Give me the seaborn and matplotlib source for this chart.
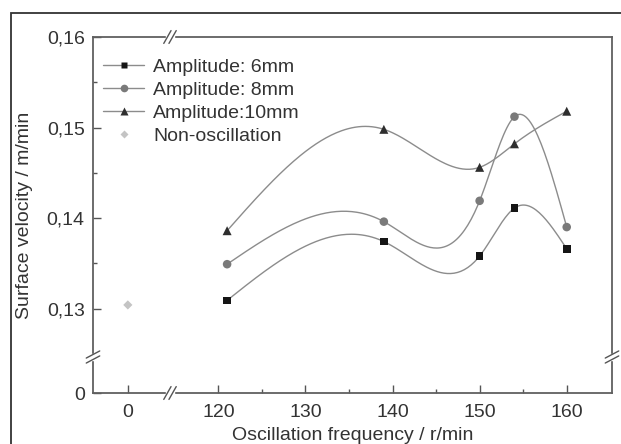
import numpy as np
import pandas as pd
import seaborn as sns
import matplotlib.pyplot as plt
from matplotlib.patches import Rectangle
from matplotlib.lines import Line2D

# data
freq = [121, 139, 150, 154, 160]
amp_6mm = [0.1309, 0.1374, 0.1358, 0.1411, 0.1366]
amp_8mm = [0.1349, 0.1396, 0.1419, 0.1512, 0.1390]
amp_10mm = [0.1386, 0.1498, 0.1456, 0.1482, 0.1518]
non_osc_freq = [0]
non_osc = [0.1304]

labels = ["Amplitude: 6mm", "Amplitude: 8mm", "Amplitude:10mm", "Non-oscillation"]


def natural_spline(x, y, n=200):
    x = np.asarray(x, float)
    y = np.asarray(y, float)
    k = len(x)
    h = np.diff(x)
    A = np.zeros((k, k))
    b = np.zeros(k)
    A[0, 0] = A[-1, -1] = 1
    for i in range(1, k - 1):
        A[i, i - 1] = h[i - 1]
        A[i, i] = 2 * (h[i - 1] + h[i])
        A[i, i + 1] = h[i]
        b[i] = 6 * ((y[i + 1] - y[i]) / h[i] - (y[i] - y[i - 1]) / h[i - 1])
    M = np.linalg.solve(A, b)
    xs = np.linspace(x[0], x[-1], n)
    idx = np.clip(np.searchsorted(x, xs) - 1, 0, k - 2)
    x0, x1 = x[idx], x[idx + 1]
    hh = x1 - x0
    t0, t1 = x1 - xs, xs - x0
    ys = (M[idx] * t0**3 + M[idx + 1] * t1**3) / (6 * hh) \
        + (y[idx] / hh - M[idx] * hh / 6) * t0 + (y[idx + 1] / hh - M[idx + 1] * hh / 6) * t1
    return xs, ys


# broken axes as piecewise linear scales
xp = [-100.0, 4.8, 114.5, 300.0]
xf = [-100.0, 4.8, 4.9, 190.4]
yp = [-1.0, 0.0039, 0.1247, 1.0]
yf = [-1.0 + 0.12077, 0.12467, 0.1248, 1.0]

sns.set_theme(style="ticks")
plt.rcParams['font.family'] = ['Liberation Sans', 'DejaVu Sans']
fs = 14

fig = plt.figure(figsize=(6.21, 4.44), dpi=100)
ax = fig.add_axes([93 / 621, 1 - 393 / 444, (612 - 93) / 621, (393 - 37) / 444])
ax.set_xscale('function', functions=(lambda v: np.interp(v, xp, xf), lambda v: np.interp(v, xf, xp)))
ax.set_yscale('function', functions=(lambda v: np.interp(v, yp, yf), lambda v: np.interp(v, yf, yp)))

line_col = '#8c8c8c'
series = [(amp_6mm, 's', '#151515', 30), (amp_8mm, 'o', '#7a7a7a', 38), (amp_10mm, '^', '#2e2e2e', 42)]
for vals, mk, col, sz in series:
    xs, ys = natural_spline(freq, vals)
    ax.plot(xs, ys, color=line_col, lw=1.0, zorder=2)
    df = pd.DataFrame({'f': freq, 'v': vals})
    sns.scatterplot(data=df, x='f', y='v', marker=mk, color=col, s=sz, edgecolor='none', ax=ax, zorder=3)
sns.scatterplot(x=non_osc_freq, y=non_osc, marker='D', color='#c4c4c4', s=22, edgecolor='none', ax=ax, zorder=3)

ax.set_xlim(-4, 165.2)
ax.set_ylim(0, 0.16)
ax.set_xticks([0, 120, 130, 140, 150, 160])
ax.set_xticks([125, 135, 145, 155], minor=True)
ax.set_yticks([0, 0.13, 0.14, 0.15, 0.16])
ax.set_yticklabels(['0', '0,13', '0,14', '0,15', '0,16'])
ax.set_yticks([0.135, 0.145, 0.155], minor=True)
ax.tick_params(which='both', direction='in', colors='#555555', labelcolor='#333333', labelsize=fs)
ax.tick_params(which='major', length=6, width=1)
ax.tick_params(which='minor', length=3, width=1)
ax.tick_params(axis='y', pad=6)
ax.tick_params(axis='x', pad=8)
ax.tick_params(top=False, right=False)
for s in ax.spines.values():
    s.set_color('#606060')
    s.set_linewidth(1.3)
    s.set_visible(True)
ax.set_xlabel('Oscillation frequency / r/min', fontsize=fs, color='#333333', labelpad=4)
ax.set_ylabel('Surface velocity / m/min', fontsize=fs, color='#333333', labelpad=10)

# break marks
bx = (170 - 93) / (612 - 93)
by = (393 - 357) / (393 - 37)
for xa in [bx]:
    for ya in [0, 1]:
        ax.add_patch(Rectangle((xa - 0.008, ya - 0.01), 0.016, 0.02, transform=ax.transAxes,
                               color='white', clip_on=False, zorder=5))
        for d in (-0.005, 0.005):
            ax.plot([xa + d - 0.007, xa + d + 0.007], [ya - 0.018, ya + 0.018], transform=ax.transAxes,
                    color='#555555', lw=1.0, clip_on=False, zorder=6)
for xa in [0, 1]:
    ax.add_patch(Rectangle((xa - 0.01, by - 0.008), 0.02, 0.016, transform=ax.transAxes,
                           color='white', clip_on=False, zorder=5))
    for d in (-0.007, 0.007):
        ax.plot([xa - 0.013, xa + 0.013], [by + d - 0.01, by + d + 0.01], transform=ax.transAxes,
                color='#555555', lw=1.0, clip_on=False, zorder=6)

handles = [
    Line2D([], [], color=line_col, lw=1.0, marker='s', markersize=5, markerfacecolor='#151515', markeredgecolor='none'),
    Line2D([], [], color=line_col, lw=1.0, marker='o', markersize=5.5, markerfacecolor='#7a7a7a', markeredgecolor='none'),
    Line2D([], [], color=line_col, lw=1.0, marker='^', markersize=6, markerfacecolor='#2e2e2e', markeredgecolor='none'),
    Line2D([], [], color='none', marker='D', markersize=4.5, markerfacecolor='#c4c4c4', markeredgecolor='none'),
]
leg = ax.legend(handles, labels, loc='upper left', frameon=False, fontsize=fs, handlelength=2.1,
                handletextpad=0.45, labelspacing=0.27, borderaxespad=0.0, bbox_to_anchor=(0.005, 0.962))
for t in leg.get_texts():
    t.set_color('#333333')

# outer frame
fig.add_artist(Rectangle((11 / 621, -0.05), 1.1, 1 - 13 / 444 + 0.05, transform=fig.transFigure,
                         fill=False, edgecolor='#333333', lw=1.3))

fig.savefig('out.png', dpi=100)
